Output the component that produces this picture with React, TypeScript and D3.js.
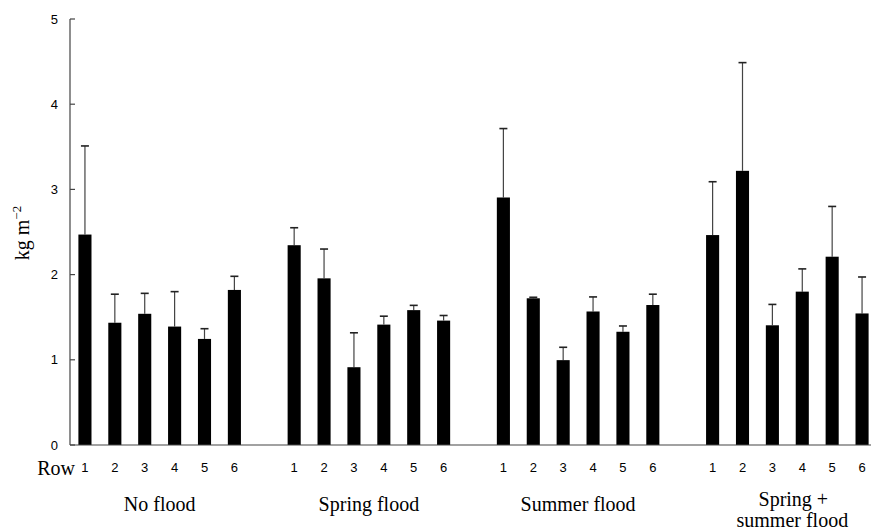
import React from "react";
import * as d3 from "d3";

const groups = ["No flood", "Spring flood", "Summer flood", "Spring +|summer flood"];
const rows = ["1", "2", "3", "4", "5", "6"];
const noFloodMean = [2.47, 1.435, 1.54, 1.39, 1.245, 1.82];
const noFloodSE = [1.04, 0.335, 0.24, 0.41, 0.12, 0.16];
const springMean = [2.345, 1.956, 0.913, 1.413, 1.583, 1.46];
const springSE = [0.205, 0.344, 0.404, 0.099, 0.056, 0.06];
const summerMean = [2.905, 1.722, 0.996, 1.567, 1.329, 1.643];
const summerSE = [0.809, 0.012, 0.151, 0.171, 0.068, 0.127];
const bothMean = [2.464, 3.218, 1.405, 1.8, 2.21, 1.544];
const bothSE = [0.626, 1.27, 0.245, 0.267, 0.59, 0.428];
const yTicks = [0, 1, 2, 3, 4, 5];

const means = [noFloodMean, springMean, summerMean, bothMean];
const ses = [noFloodSE, springSE, summerSE, bothSE];

export default function App() {
  const W = 871, H = 531;
  const slots: string[] = [];
  groups.forEach((g, gi) => {
    rows.forEach((r) => slots.push(`${gi}-${r}`));
    if (gi < groups.length - 1) slots.push(`gap-${gi}`);
  });
  const pad = 0.562;
  const x = d3.scaleBand<string>().domain(slots).range([70, 877]).paddingInner(pad).paddingOuter(pad / 2);
  const y = d3.scaleLinear().domain([0, 5]).range([445, 19]);
  const bw = x.bandwidth();
  const sans = "'Liberation Sans', Arial, sans-serif";
  const serif = "'Liberation Serif', 'Times New Roman', serif";

  const bars: any[] = [];
  groups.forEach((g, gi) => {
    rows.forEach((r, ri) => {
      bars.push({ key: `${gi}-${r}`, row: r, mean: means[gi][ri], se: ses[gi][ri] });
    });
  });

  return (
    <svg width={W} height={H} style={{ position: "absolute", left: 0, top: 0, background: "#fff" }}>
      {bars.map((b) => {
        const cx = (x(b.key) as number) + bw / 2;
        return (
          <g key={b.key}>
            <line x1={cx} x2={cx} y1={y(b.mean)} y2={y(b.mean + b.se)} stroke="#444" strokeWidth={1.2} />
            <line x1={cx - 4} x2={cx + 4} y1={y(b.mean + b.se)} y2={y(b.mean + b.se)} stroke="#222" strokeWidth={1.6} />
            <rect x={cx - bw / 2} y={y(b.mean)} width={bw} height={y(0) - y(b.mean)} fill="#000" />
          </g>
        );
      })}
      <line x1={70} x2={70} y1={y(5)} y2={y(0)} stroke="#444" strokeWidth={1.2} />
      {yTicks.map((t) => (
        <g key={t}>
          <line x1={70} x2={75} y1={y(t)} y2={y(t)} stroke="#444" strokeWidth={1.2} />
          <text x={58} y={y(t)} dy="0.35em" textAnchor="end" fontFamily={sans} fontSize={13} fill="#000">
            {t}
          </text>
        </g>
      ))}
      <line x1={70} x2={W} y1={y(0)} y2={y(0)} stroke="#444" strokeWidth={1.2} />
      {bars.map((b) => (
        <text key={"l" + b.key} x={(x(b.key) as number) + bw / 2} y={472} textAnchor="middle" fontFamily={sans} fontSize={13} fill="#000">
          {b.row}
        </text>
      ))}
      <text x={75} y={475} textAnchor="end" fontFamily={serif} fontSize={20} fill="#000">Row</text>
      {groups.map((g, gi) => {
        const first = (x(`${gi}-1`) as number) + bw / 2;
        const last = (x(`${gi}-6`) as number) + bw / 2;
        const cx = (first + last) / 2;
        const lines = g.split("|");
        if (lines.length === 1) {
          return (
            <text key={g} x={cx} y={511} textAnchor="middle" fontFamily={serif} fontSize={20} fill="#000">{g}</text>
          );
        }
        return (
          <text key={g} x={cx + 5} textAnchor="middle" fontFamily={serif} fontSize={20} fill="#000">
            <tspan x={cx + 6} y={506}>{lines[0]}</tspan>
            <tspan x={cx + 5} y={527}>{lines[1]}</tspan>
          </text>
        );
      })}
      <text transform={`translate(29,233) rotate(-90)`} textAnchor="middle" fontFamily={serif} fontSize={20} fill="#000">
        kg m<tspan fontSize={13} dy={-8}>−2</tspan>
      </text>
    </svg>
  );
}
